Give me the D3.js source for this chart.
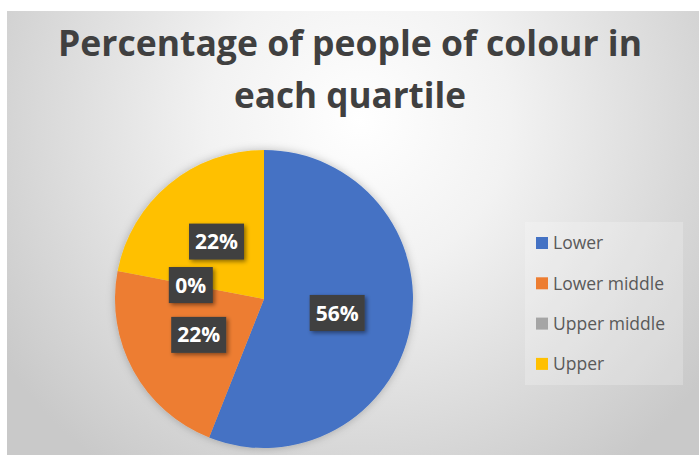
<!DOCTYPE html>
<html>
<head>
<meta charset="utf-8">
<script src="https://cdn.jsdelivr.net/npm/d3@7"></script>
<style>
  html, body { margin: 0; padding: 0; background: #fff; }
  svg { display: block; }
</style>
</head>
<body>
<div id="chart"></div>
<script>
// Data
const categories = ["Lower", "Lower middle", "Upper middle", "Upper"];
const percentages = [56, 22, 0, 22];
const colours = ["#4472C4", "#ED7D31", "#A5A5A5", "#FFC000"];
const titleLines = ["Percentage of people of colour in", "each quartile"];

const width = 699;
const height = 455;

const svg = d3.select("#chart")
  .append("svg")
  .attr("width", width)
  .attr("height", height);

const defs = svg.append("defs");

// Background gradient
const grad = defs.append("radialGradient")
  .attr("id", "bg")
  .attr("gradientUnits", "userSpaceOnUse")
  .attr("cx", 360).attr("cy", 120).attr("r", 430);
grad.append("stop").attr("offset", "0%").attr("stop-color", "#ffffff");
grad.append("stop").attr("offset", "35%").attr("stop-color", "#f2f2f2");
grad.append("stop").attr("offset", "100%").attr("stop-color", "#c9c9c9");

// Shadows
const pieShadow = defs.append("filter").attr("id", "pieShadow")
  .attr("x", "-20%").attr("y", "-20%").attr("width", "140%").attr("height", "140%");
pieShadow.append("feDropShadow")
  .attr("dx", 0).attr("dy", 0).attr("stdDeviation", 4)
  .attr("flood-color", "#000").attr("flood-opacity", 0.25);

const labelShadow = defs.append("filter").attr("id", "labelShadow")
  .attr("x", "-30%").attr("y", "-30%").attr("width", "160%").attr("height", "160%");
labelShadow.append("feDropShadow")
  .attr("dx", 2).attr("dy", 2).attr("stdDeviation", 2)
  .attr("flood-color", "#000").attr("flood-opacity", 0.45);

svg.append("rect")
  .attr("x", 7).attr("y", 11)
  .attr("width", width - 7).attr("height", height - 11)
  .attr("fill", "url(#bg)");

// Title (squeezed a little, the original font is narrower)
const titleWidths = [584, 232];

svg.append("g")
  .attr("font-family", "'Open Sans', sans-serif")
  .attr("font-weight", "bold")
  .attr("fill", "#404040")
  .attr("text-anchor", "middle")
  .selectAll("text")
  .data(titleLines)
  .enter()
  .append("text")
  .attr("x", 350)
  .attr("y", (d, i) => 56 + i * 52)
  .attr("font-size", 36)
  .attr("textLength", (d, i) => titleWidths[i])
  .attr("lengthAdjust", "spacingAndGlyphs")
  .text(d => d);

// Pie
const radius = 149;
const cx = 264, cy = 299;

const data = categories.map((c, i) => ({ name: c, value: percentages[i], colour: colours[i] }));

const pie = d3.pie().value(d => d.value).sort(null);
const arc = d3.arc().innerRadius(0).outerRadius(radius);
const arcs = pie(data);

const pieG = svg.append("g")
  .attr("transform", `translate(${cx},${cy})`);

pieG.append("g")
  .attr("filter", "url(#pieShadow)")
  .selectAll("path")
  .data(arcs)
  .enter()
  .append("path")
  .attr("d", arc)
  .attr("fill", d => d.data.colour);

// Data labels
const labelW = { 2: 44 };
const label = pieG.selectAll("g.label")
  .data(arcs)
  .enter()
  .append("g")
  .attr("class", "label")
  .attr("transform", d => {
    const [x, y] = arc.centroid(d);
    return `translate(${x},${y})`;
  });

label.append("rect")
  .attr("x", d => -(labelW[d.index] || 55) / 2)
  .attr("y", -18)
  .attr("width", d => labelW[d.index] || 55)
  .attr("height", 36)
  .attr("fill", "#404040")
  .attr("filter", "url(#labelShadow)");

label.append("text")
  .attr("text-anchor", "middle")
  .attr("dy", "0.36em")
  .attr("font-family", "'Open Sans', sans-serif")
  .attr("font-weight", "bold")
  .attr("font-size", 21)
  .attr("fill", "#ffffff")
  .text(d => d.data.value + "%");

// Legend
const legend = svg.append("g");

legend.append("rect")
  .attr("x", 525).attr("y", 222)
  .attr("width", 158).attr("height", 163)
  .attr("fill", "#ffffff")
  .attr("fill-opacity", 0.22);

const item = legend.selectAll("g.item")
  .data(data)
  .enter()
  .append("g")
  .attr("class", "item")
  .attr("transform", (d, i) => `translate(536,${243 + i * 40.3})`);

item.append("rect")
  .attr("x", 0).attr("y", -6)
  .attr("width", 12).attr("height", 12)
  .attr("fill", d => d.colour);

item.append("text")
  .attr("x", 17)
  .attr("dy", "0.36em")
  .attr("font-family", "'Open Sans', sans-serif")
  .attr("font-size", 17.5)
  .attr("fill", "#595959")
  .text(d => d.name);
</script>
</body>
</html>
